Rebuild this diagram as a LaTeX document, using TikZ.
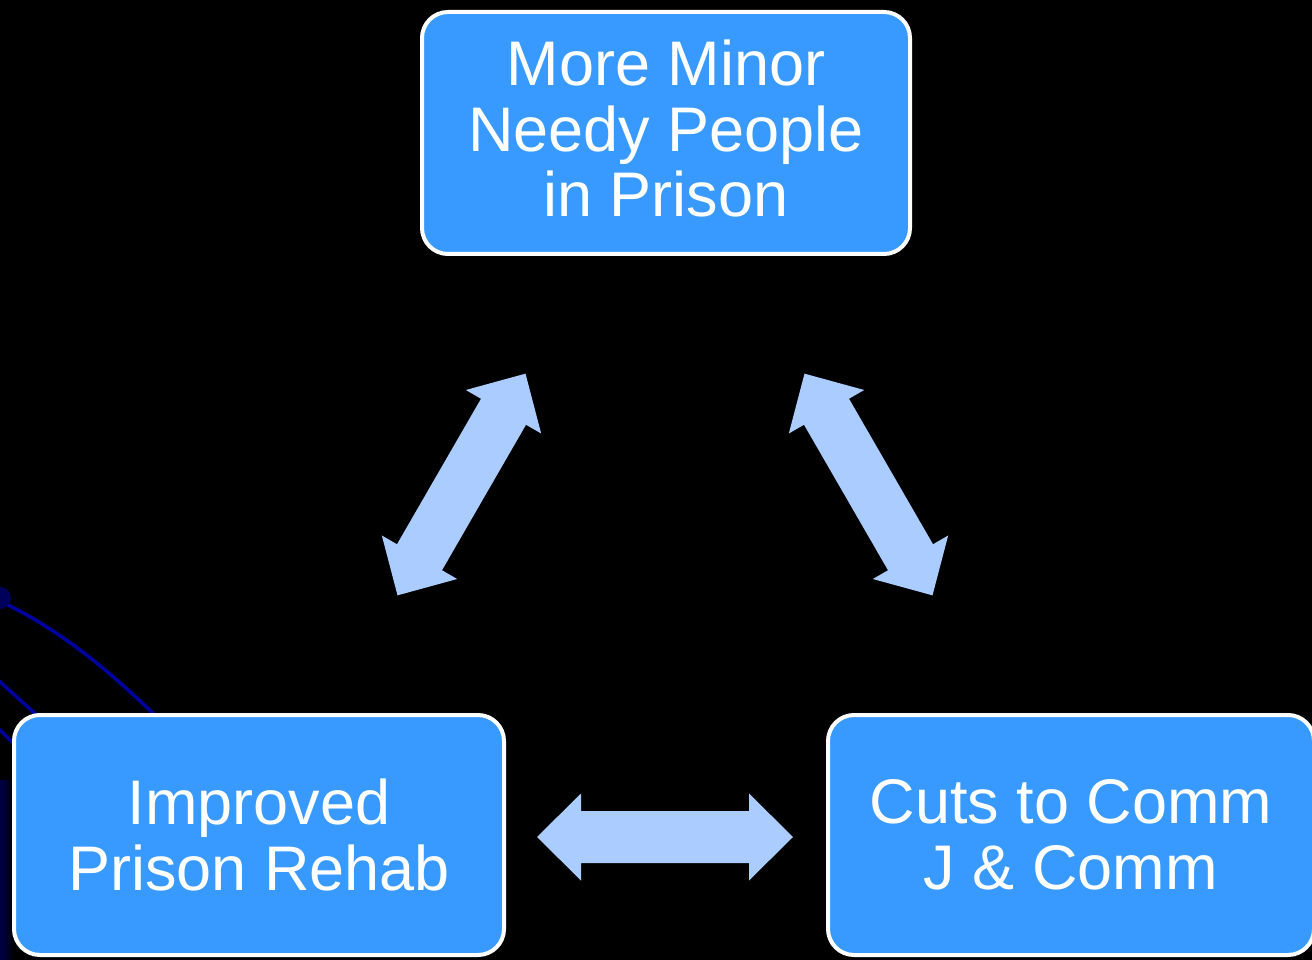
\documentclass[tikz,border=0pt]{standalone}
\usepackage{fontspec}
\setmainfont{Liberation Sans}
\definecolor{boxblue}{RGB}{56,154,255}
\definecolor{arrowblue}{RGB}{170,204,255}
\definecolor{decoline}{RGB}{0,0,160}
\definecolor{decodot}{RGB}{0,0,90}
\definecolor{decodark}{RGB}{0,0,70}
\begin{document}
\begin{tikzpicture}[x=1pt,y=-1pt,
  cbox/.style={draw=white, line width=4pt, fill=boxblue, rounded corners=26pt,
    inner sep=0pt, outer sep=0pt, text=white, align=center,
    font=\fontsize{63pt}{65.5pt}\selectfont},
  dblarrow/.pic={\fill[arrowblue] (128,0) -- (84,43.5) -- (84,26) -- (-84,26) -- (-84,43.5)
      -- (-128,0) -- (-84,-43.5) -- (-84,-26) -- (84,-26) -- (84,-43.5) -- cycle;}]
  % background
  \fill[black] (0,0) rectangle (1312,960);
  \useasboundingbox (0,0) rectangle (1312,960);
  % decorative left-side curves
  \shade[left color=black, right color=black, middle color=decodark] (-12,780) rectangle (14,960);
  \draw[decoline, line width=3.5pt] (2,602) .. controls (60,630) and (110,670) .. (170,730);
  \draw[decoline, line width=3.5pt] (-2,680) -- (40,718);
  \draw[decoline, line width=3.5pt] (-2,728) -- (14,744);
  \fill[decodot] (0,598) circle (11);
  % boxes
  \node[cbox, minimum width=488pt, minimum height=242pt, text depth=9pt] (top) at (666,133)
    {More Minor\\Needy People\\in Prison};
  \node[cbox, minimum width=490pt, minimum height=240pt] (left) at (259,835)
    {Improved\\Prison Rehab};
  \node[cbox, minimum width=486pt, minimum height=240pt] (right) at (1071,835)
    {Cuts to Comm\\J \& Comm};
  % block arrows
  \coordinate (a1) at (461.5,484.5);
  \coordinate (a2) at (868.5,484.5);
  \coordinate (a3) at (665,837);
  \pic[rotate=60] at (a1) {dblarrow};
  \pic[rotate=-60] at (a2) {dblarrow};
  \pic at (a3) {dblarrow};
\end{tikzpicture}
\end{document}
